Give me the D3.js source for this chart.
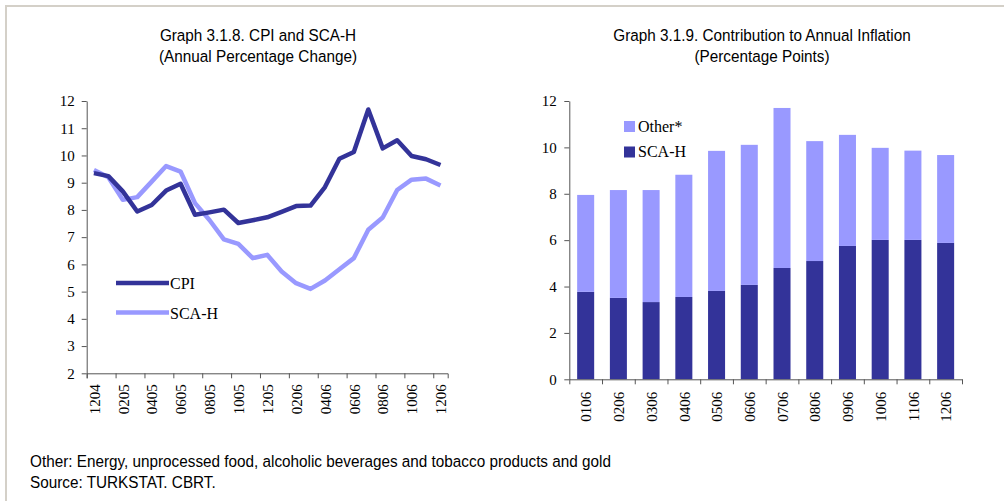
<!DOCTYPE html>
<html>
<head>
<meta charset="utf-8">
<script src="https://cdn.jsdelivr.net/npm/d3@7"></script>
<style>
  body { margin: 0; background: #fff; }
  .title, .note { font-family: "Liberation Sans Narrow", "Arial Narrow", "Liberation Sans", sans-serif; fill: #000; font-size: 17px; }
  .axis text, .legend text { font-family: "Liberation Serif", "Times New Roman", serif; font-size: 15px; fill: #000; }
  .axis path, .axis line { stroke: #555; }
</style>
</head>
<body>
<svg id="chart" width="1004" height="501"></svg>
<script>
// monthly labels 1204 .. 1206
const months = ["1204","0105","0205","0305","0405","0505","0605","0705","0805","0905","1005","1105","1205",
  "0106","0206","0306","0406","0506","0606","0706","0806","0906","1006","1106","1206"];
const cpi = [9.35, 9.24, 8.68, 7.94, 8.18, 8.71, 8.96, 7.82, 7.91, 8.01, 7.52, 7.62, 7.73,
  7.93, 8.14, 8.16, 8.84, 9.88, 10.13, 11.69, 10.26, 10.56, 9.98, 9.86, 9.65];
const scah = [9.47, 9.20, 8.37, 8.47, 9.04, 9.61, 9.41, 8.25, 7.63, 6.92, 6.75, 6.23, 6.35,
  5.74, 5.31, 5.10, 5.41, 5.82, 6.23, 7.27, 7.72, 8.73, 9.11, 9.15, 8.90];

// contribution bars
const barMonths = ["0106","0206","0306","0406","0506","0606","0706","0806","0906","1006","1106","1206"];
const scahContrib = [3.77, 3.51, 3.33, 3.55, 3.81, 4.07, 4.80, 5.10, 5.75, 6.01, 6.01, 5.88];
const otherContrib = [4.18, 4.65, 4.83, 5.27, 6.04, 6.04, 6.90, 5.17, 4.79, 3.97, 3.85, 3.79];

const leftTicks = [2,3,4,5,6,7,8,9,10,11,12];
const rightTicks = [0,2,4,6,8,10,12];

const dark = "#333399", light = "#9999ff";

const svg = d3.select("#chart");

// frame
svg.append("line").attr("x1", 5).attr("x2", 1004).attr("y1", 6).attr("y2", 6)
  .attr("stroke", "#d4d0c8").attr("stroke-width", 2);
svg.append("line").attr("x1", 6).attr("x2", 6).attr("y1", 5).attr("y2", 501)
  .attr("stroke", "#d4d0c8").attr("stroke-width", 2);

// narrow look: no condensed font installed, so squeeze horizontally
function narrowText(x, y, t, anchor){
  svg.append("text").attr("class", "title")
    .attr("transform", "translate(" + x + "," + y + ") scale(0.9,1)")
    .attr("text-anchor", anchor)
    .text(t);
}
function title(x, lines){
  lines.forEach((t, i)=>{ narrowText(x, 41 + i*21, t, "middle"); });
}
title(258, ["Graph 3.1.8. CPI and SCA-H", "(Annual Percentage Change)"]);
title(762, ["Graph 3.1.9. Contribution to Annual Inflation", "(Percentage Points)"]);

// ---------- left: line chart ----------
const x = d3.scaleLinear().domain([0, months.length]).range([86.7, 447.7]);
const y = d3.scaleLinear().domain([2, 12]).range([373.3, 101]);
const half = (x(1) - x(0)) / 2;

const xAxis = d3.axisBottom(x)
  .tickValues(d3.range(0, months.length, 2))
  .tickFormat(i => months[i])
  .tickSizeOuter(0)
  .tickSize(5);

const gx = svg.append("g").attr("class", "axis")
  .attr("transform", "translate(0," + y(2) + ")")
  .call(xAxis);
gx.selectAll("text")
  .attr("text-anchor", "end")
  .attr("x", 0).attr("y", 0).attr("dy", "0.35em")
  .attr("transform", "translate(" + half + ",11) rotate(-90)");

svg.append("g").attr("class", "axis")
  .attr("transform", "translate(" + x(0) + ",0)")
  .call(d3.axisLeft(y).tickValues(leftTicks).tickSize(5).tickSizeOuter(0).tickPadding(7));

const line = d3.line()
  .x((d, i)=>{ return x(i + 0.5); })
  .y(d => y(d));

svg.append("path").datum(scah)
  .attr("d", line).attr("fill", "none")
  .attr("stroke", light).attr("stroke-width", 4.5).attr("stroke-linejoin", "round");
svg.append("path").datum(cpi)
  .attr("d", line).attr("fill", "none")
  .attr("stroke", dark).attr("stroke-width", 4.5).attr("stroke-linejoin", "round");

const leg1 = svg.append("g").attr("class", "legend");
[["CPI", dark, 283], ["SCA-H", light, 312.5]].forEach(([name, col, ly])=>{
  leg1.append("line").attr("x1", 116).attr("x2", 169).attr("y1", ly).attr("y2", ly)
    .attr("stroke", col).attr("stroke-width", 4.5);
  leg1.append("text").attr("x", 170).attr("y", ly + 6).style("font-size", "16px").text(name);
});

// ---------- right: stacked bars ----------
const xb = d3.scaleBand().domain(barMonths).range([569.3, 962])
  .paddingInner(0.48).paddingOuter(0.24);
const xt = d3.scaleLinear().domain([0, barMonths.length]).range([569.3, 962]);
const yb = d3.scaleLinear().domain([0, 12]).range([379.3, 101]);

const bars = svg.append("g");
bars.selectAll("rect.scah").data(barMonths).enter().append("rect")
  .attr("x", d => xb(d)).attr("width", xb.bandwidth())
  .attr("y", (d, i) => yb(scahContrib[i]))
  .attr("height", (d, i) => yb(0) - yb(scahContrib[i]))
  .attr("fill", dark);
bars.selectAll("rect.other").data(barMonths).enter().append("rect")
  .attr("x", d => xb(d)).attr("width", xb.bandwidth())
  .attr("y", (d, i) => yb(scahContrib[i] + otherContrib[i]))
  .attr("height", (d, i) => yb(scahContrib[i]) - yb(scahContrib[i] + otherContrib[i]))
  .attr("fill", light);

const gxb = svg.append("g").attr("class", "axis")
  .attr("transform", "translate(0," + yb(0) + ")")
  .call(d3.axisBottom(xt).tickValues(d3.range(0, barMonths.length + 1))
    .tickFormat(i => barMonths[i] || "").tickSize(5).tickSizeOuter(0));
gxb.selectAll("text")
  .attr("text-anchor", "end")
  .attr("x", 0).attr("y", 0).attr("dy", "0.35em")
  .attr("transform", "translate(" + (xb.step() / 2) + ",12.5) rotate(-90)");

svg.append("g").attr("class", "axis")
  .attr("transform", "translate(" + xt(0) + ",0)")
  .call(d3.axisLeft(yb).tickValues(rightTicks).tickSize(5).tickSizeOuter(0).tickPadding(7.5));

const leg2 = svg.append("g").attr("class", "legend");
[["Other*", light, 121], ["SCA-H", dark, 146.5]].forEach(([name, col, ly])=>{
  leg2.append("rect").attr("x", 624).attr("y", ly).attr("width", 11).attr("height", 11).attr("fill", col);
  leg2.append("text").attr("x", 638).attr("y", ly + 10.5).style("font-size", "16px").text(name);
});

// notes
narrowText(30, 467, "Other: Energy, unprocessed food, alcoholic beverages and tobacco products and gold", "start");
narrowText(30, 488, "Source: TURKSTAT. CBRT.", "start");
</script>
</body>
</html>
